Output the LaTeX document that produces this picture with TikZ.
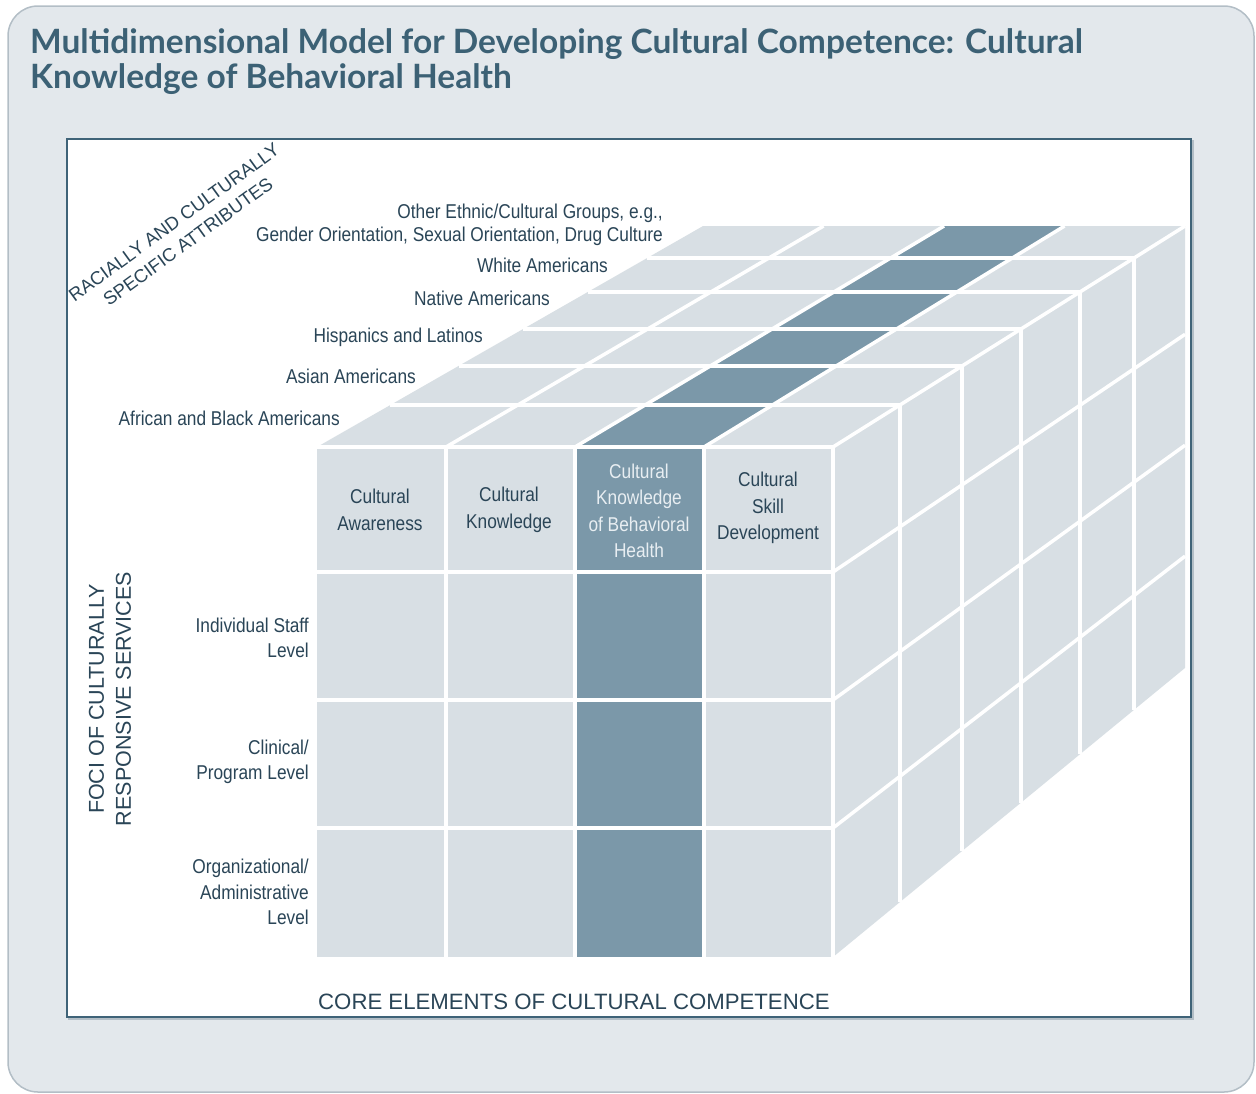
\documentclass[tikz,border=0pt]{standalone}
\usepackage{fontspec}
\setmainfont{Liberation Sans}
\newfontfamily\narrowfont{Liberation Sans}[FakeStretch=0.865]
\newfontfamily\titlefont{Lato}
\definecolor{panel}{HTML}{E3E8EC}
\definecolor{panelborder}{HTML}{B3BEC6}
\definecolor{frameblue}{HTML}{3F6378}
\definecolor{titleblue}{HTML}{3C6175}
\definecolor{cellLight}{HTML}{D8DFE4}
\definecolor{cellDark}{HTML}{7B98A9}
\definecolor{labeltext}{HTML}{2A4557}
\definecolor{darktext}{HTML}{E8EEF2}
\tikzset{
  gap/.style={draw=white, line width=3.5pt},
  titletext/.style={anchor=base west, inner sep=0pt, text=titleblue, font=\titlefont\bfseries\fontsize{33.5}{38}\selectfont},
  celltext/.style={inner sep=0pt, align=center, text=labeltext, font=\narrowfont\fontsize{20}{26.5}\selectfont},
  levellabel/.style={anchor=east, inner sep=0pt, align=right, text=labeltext, font=\narrowfont\fontsize{20}{25.5}\selectfont},
  grouplabel/.style={anchor=east, inner sep=0pt, text=labeltext, font=\narrowfont\fontsize{20}{24}\selectfont},
  capslabel/.style={inner sep=0pt, align=center, text=labeltext}
}
\begin{document}
\begin{tikzpicture}[x=1pt,y=-1pt]
\useasboundingbox (0,0) rectangle (1256,1093);
% outer panel
\draw[fill=panel, draw=panelborder, line width=1.5pt, rounded corners=30pt] (8,6) rectangle (1254,1092);
% title
\node[titletext] (title1) at (30,53) {Multidimensional Model for Developing Cultural Competence: Cultural};
\node[titletext] (title2) at (30,88) {Knowledge of Behavioral Health};
% inner frame with faint shadow
\draw[draw=panelborder, line width=2pt] (69,141) rectangle (1193,1019);
\draw[fill=white, draw=frameblue, line width=2pt] (67,139) rectangle (1191,1017);
% grid coordinates
\foreach \i/\T in {0/447,1/405,2/366,3/329,4/292,5/258,6/226}{
  \pgfmathsetmacro\L{317+(447-\T)*1.747}
  \pgfmathsetmacro\R{833+(447-\T)*1.593}
  \pgfmathsetmacro\B{957-(447-\T)*1.308}
  \foreach \k in {0,...,4}{\coordinate (t-\i-\k) at ({\L+\k*(\R-\L)/4},\T);}
  \foreach \r/\Y in {0/447,1/572,2/700,3/828,4/957}{\coordinate (s-\i-\r) at (\R,{\T+(\Y-447)/510*(\B-\T)});}
}
\foreach \k/\X in {0/317,1/446,2/575,3/704,4/833}{
  \foreach \r/\Y in {0/447,1/572,2/700,3/828,4/957}{\coordinate (f-\k-\r) at (\X,\Y);}
}
% faces
\fill[cellLight] (f-0-0) rectangle (f-4-4);
\fill[cellLight] (t-0-0) -- (t-0-4) -- (t-6-4) -- (t-6-0) -- cycle;
\fill[cellLight] (s-0-0) -- (s-6-0) -- (s-6-4) -- (s-0-4) -- cycle;
\fill[cellDark] (f-2-0) rectangle (f-3-4);
\fill[cellDark] (t-0-2) -- (t-0-3) -- (t-6-3) -- (t-6-2) -- cycle;
% white gaps
\foreach \k in {1,2,3}{\draw[gap] (f-\k-0) -- (f-\k-4);}
\foreach \r in {1,2,3}{\draw[gap] (f-0-\r) -- (f-4-\r);}
\draw[gap] (f-0-0) -- (f-4-0) -- (f-4-4);
\foreach \i in {1,...,5}{\draw[gap] (t-\i-0) -- (t-\i-4);}
\foreach \k in {1,2,3,4}{\draw[gap] (t-0-\k) -- (t-6-\k);}
\foreach \i in {1,...,5}{\draw[gap] (s-\i-0) -- (s-\i-4);}
\foreach \r in {1,2,3}{\draw[gap] (s-0-\r) -- (s-6-\r);}
% front header texts
\node[celltext] (ca) at (380,510) {Cultural\\Awareness};
\node[celltext] (ck) at (509,510) {Cultural\\Knowledge};
\node[celltext, text=darktext] (ckb) at (639,511) {Cultural\\Knowledge\\of Behavioral\\Health};
\node[celltext] (csd) at (768,508) {Cultural\\Skill\\Development};
% level labels
\node[levellabel] (lv1) at (309,638) {Individual Staff\\Level};
\node[levellabel] (lv2) at (309,762) {Clinical/\\Program Level};
\node[levellabel] (lv3) at (309,892) {Organizational/\\Administrative\\Level};
% group labels
\node[grouplabel] (g1a) at (663,213) {Other Ethnic/Cultural Groups, e.g.,};
\node[grouplabel] (g1b) at (663,236) {Gender Orientation, Sexual Orientation, Drug Culture};
\node[grouplabel] (g2) at (608,265) {White Americans};
\node[grouplabel] (g3) at (550,298) {Native Americans};
\node[grouplabel] (g4) at (483,337) {Hispanics and Latinos};
\node[grouplabel] (g5) at (416,376) {Asian Americans};
\node[grouplabel] (g6) at (340,418) {African and Black Americans};
% axis labels
\node[capslabel, rotate=36, font=\fontsize{18.5}{24}\selectfont] (axr) at (181,232) {RACIALLY AND CULTURALLY\\SPECIFIC ATTRIBUTES};
\node[capslabel, rotate=90, font=\fontsize{21.5}{27}\selectfont] (axf) at (110,699) {FOCI OF CULTURALLY\\RESPONSIVE SERVICES};
\node[capslabel, anchor=west, font=\fontsize{22.2}{27}\selectfont] (axc) at (318,1002) {CORE ELEMENTS OF CULTURAL COMPETENCE};
\end{tikzpicture}
\end{document}
